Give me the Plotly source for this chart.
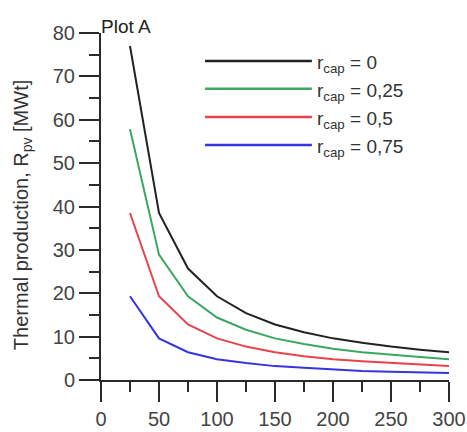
import plotly.graph_objects as go

x_vals = [25, 50, 75, 100, 125, 150, 175, 200, 225, 250, 275, 300]
r_cap_0 = [77.0, 38.5, 25.7, 19.3, 15.4, 12.8, 11.0, 9.6, 8.6, 7.7, 7.0, 6.4]
r_cap_025 = [57.8, 28.9, 19.3, 14.4, 11.6, 9.6, 8.3, 7.2, 6.4, 5.8, 5.3, 4.8]
r_cap_05 = [38.5, 19.3, 12.8, 9.6, 7.7, 6.4, 5.5, 4.8, 4.3, 3.9, 3.5, 3.2]
r_cap_075 = [19.3, 9.6, 6.4, 4.8, 3.9, 3.2, 2.8, 2.4, 2.1, 1.9, 1.75, 1.6]

series_labels = ["0", "0,25", "0,5", "0,75"]
series_values = [r_cap_0, r_cap_025, r_cap_05, r_cap_075]
colors = ["#222222", "#3aa860", "#e8424a", "#3434e0"]

x_ticks = [0, 50, 100, 150, 200, 250, 300]
y_ticks = [0, 10, 20, 30, 40, 50, 60, 70, 80]

FONT = "Liberation Sans, Arial, sans-serif"

fig = go.Figure()
for lab, vals, col in zip(series_labels, series_values, colors):
    fig.add_trace(go.Scatter(x=x_vals, y=vals, mode="lines",
                             line=dict(color=col, width=2),
                             name="r_cap = " + lab, showlegend=False))

# custom legend (long line samples)
leg_x0, leg_x1, leg_tx = 0.299, 0.606, 0.616
leg_y = [0.919, 0.839, 0.758, 0.677]
for lab, col, yy in zip(series_labels, colors, leg_y):
    fig.add_shape(type="line", xref="paper", yref="paper",
                  x0=leg_x0, x1=leg_x1, y0=yy, y1=yy,
                  line=dict(color=col, width=2.5))
    fig.add_annotation(xref="paper", yref="paper", x=leg_tx, y=yy,
                       xanchor="left", yanchor="middle", yshift=-3,
                       text="r<sub>cap</sub> = " + lab, showarrow=False,
                       font=dict(family=FONT, size=19, color="#333333"))

fig.add_annotation(xref="paper", yref="paper", x=0.0, y=1.0,
                   xanchor="left", yanchor="bottom", yshift=-6, xshift=-2,
                   text="Plot A", showarrow=False,
                   font=dict(family=FONT, size=19, color="#222222"))

fig.add_annotation(xref="paper", yref="paper", x=0.0, y=0.475,
                   xanchor="center", yanchor="middle", xshift=-79,
                   textangle=-90,
                   text="Thermal production, R<sub>pv</sub> [MWt]",
                   showarrow=False,
                   font=dict(family=FONT, size=20, color="#333333"))

axis_common = dict(showgrid=False, zeroline=False, showline=True,
                   linecolor="#2a2a2a", linewidth=2,
                   ticks="outside", ticklen=20, tickwidth=2, tickcolor="#2a2a2a",
                   tickfont=dict(family=FONT, size=20, color="#444444"))

fig.update_xaxes(range=[0, 300], tickvals=x_ticks,
                 ticktext=[str(v) for v in x_ticks],
                 minor=dict(ticks="outside", ticklen=10, tickwidth=2,
                            tickcolor="#2a2a2a", dtick=25, tick0=0),
                 **axis_common)
fig.update_yaxes(range=[0, 80], tickvals=y_ticks,
                 ticktext=[str(v) for v in y_ticks],
                 minor=dict(ticks="outside", ticklen=10, tickwidth=2,
                            tickcolor="#2a2a2a", dtick=5, tick0=0),
                 **axis_common)

fig.update_layout(width=467, height=432,
                  margin=dict(l=101, r=18, t=33, b=52, autoexpand=False),
                  plot_bgcolor="white", paper_bgcolor="white")

fig.write_html("out.html",
               config={"displayModeBar": False, "staticPlot": True},
               post_script="document.body.style.margin='0';document.body.style.overflow='hidden';")
